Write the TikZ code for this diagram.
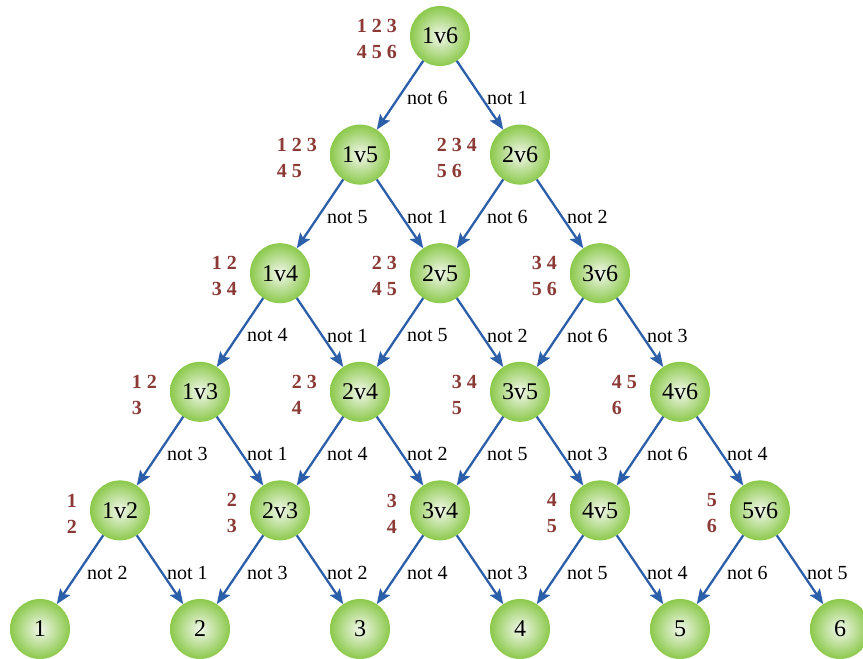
\documentclass[tikz,border=0pt]{standalone}
\usepackage{fontspec}
\setmainfont{Liberation Serif}
\usetikzlibrary{arrows.meta}
\definecolor{arrblue}{HTML}{2C5FA9}
\definecolor{numred}{HTML}{8B3A36}
\definecolor{ginner}{HTML}{F2F7EC}
\definecolor{gouter}{HTML}{8BC94B}
\tikzset{
  ball/.style={circle, minimum size=60pt, inner sep=0pt, outer sep=0pt,
    inner color=ginner, outer color=gouter,
    font=\fontsize{24}{24}\selectfont},
  conn/.style={draw=arrblue, line width=2.3pt,
    -{Stealth[length=15pt,width=12pt,inset=3pt]}},
  elab/.style={anchor=west, inner sep=0pt, xshift=6pt, yshift=-3pt,
    font=\fontsize{20}{20}\selectfont},
  nums/.style={anchor=east, align=left, inner sep=0pt, text=numred,
    font=\fontsize{20}{26}\selectfont\bfseries}
}
\begin{document}
\begin{tikzpicture}[x=1pt,y=-1pt]
\useasboundingbox (0,0) rectangle (863,659);
% inner nodes
\foreach \d in {1,...,5}{
  \pgfmathtruncatemacro\imax{6-\d}
  \foreach \i in {1,...,\imax}{
    \pgfmathtruncatemacro\j{\i+\d}
    \node[ball] (n\i\j) at ({440+80*(2*\i+\d-7)},{36+(5-\d)*118.6}) {\i v\j};
  }
}
% leaves
\foreach \k in {1,...,6}{
  \node[ball] (l\k) at ({40+160*(\k-1)},629) {\k};
}
% number labels
\foreach \n/\t in {16/{1 2 3\\4 5 6}, 15/{1 2 3\\4 5}, 26/{2 3 4\\5 6},
  14/{1 2\\3 4}, 25/{2 3\\4 5}, 36/{3 4\\5 6},
  13/{1 2\\3}, 24/{2 3\\4}, 35/{3 4\\5}, 46/{4 5\\6},
  12/{1\\2}, 23/{2\\3}, 34/{3\\4}, 45/{4\\5}, 56/{5\\6}}{
  \node[nums] (lab\n) at ([xshift=-43pt,yshift=-3pt]n\n.center) {\t};
}
% edges between inner nodes
\foreach \d in {2,...,5}{
  \pgfmathtruncatemacro\imax{6-\d}
  \foreach \i in {1,...,\imax}{
    \pgfmathtruncatemacro\j{\i+\d}
    \pgfmathtruncatemacro\jm{\j-1}
    \pgfmathtruncatemacro\ip{\i+1}
    \draw[conn] (n\i\j) -- node[elab] {not \j} (n\i\jm);
    \draw[conn] (n\i\j) -- node[elab] {not \i} (n\ip\j);
  }
}
% edges to leaves
\foreach \i in {1,...,5}{
  \pgfmathtruncatemacro\j{\i+1}
  \draw[conn] (n\i\j) -- node[elab] {not \j} (l\i);
  \draw[conn] (n\i\j) -- node[elab] {not \i} (l\j);
}
\end{tikzpicture}
\end{document}
